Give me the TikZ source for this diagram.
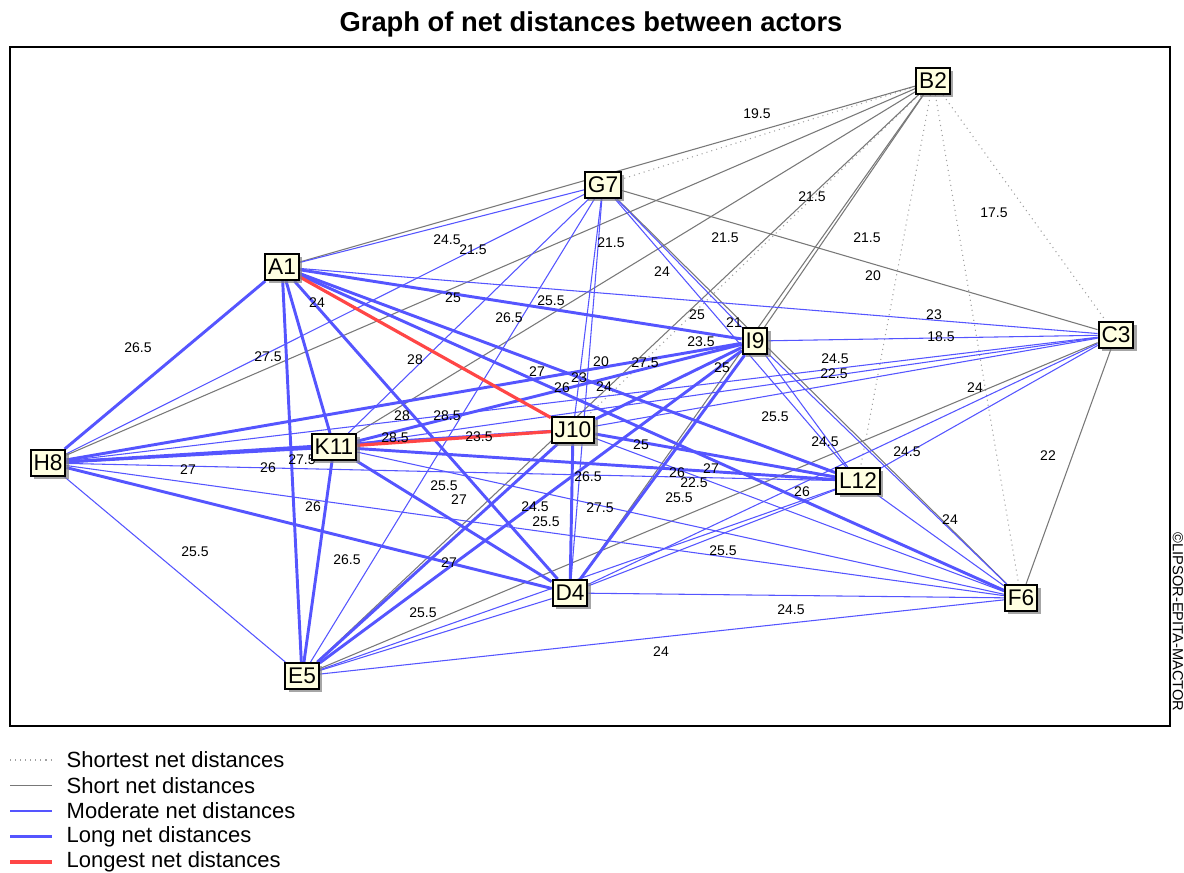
\documentclass[tikz,border=0pt]{standalone}
\usepackage{fontspec}
\setmainfont{Liberation Sans}
\usetikzlibrary{shadows,backgrounds}

\definecolor{actorfill}{RGB}{255,255,225}
\definecolor{netblue}{RGB}{85,85,255}
\definecolor{netred}{RGB}{255,70,70}
\definecolor{netgray}{RGB}{120,120,120}
\definecolor{netlight}{RGB}{160,160,160}

\tikzset{
  actor/.style={draw, line width=1.5pt, fill=actorfill, inner xsep=2.2pt, inner ysep=0pt,
    minimum height=19.5pt, font=\fontsize{17}{17}\selectfont,
    general shadow={fill=black!50, opacity=0.7, shadow xshift=2.5pt, shadow yshift=-2.5pt}},
  dist/.style={inner sep=0pt, font=\fontsize{10.5}{10.5}\selectfont},
  shortest/.style={netlight, line width=0.8pt, dash pattern=on 0.8pt off 3pt},
  shortline/.style={netgray, line width=0.8pt},
  moderate/.style={netblue, line width=0.8pt},
  longline/.style={netblue, line width=2.2pt},
  longest/.style={netred, line width=2.4pt}
}

\begin{document}
\begin{tikzpicture}[x=0.75pt,y=-0.75pt]
\useasboundingbox (0,0) rectangle (1184,872);

\node[font=\bfseries\fontsize{20.5}{20.5}\selectfont] (title) at (591,24) {Graph of net distances between actors};

% actors
\node[actor] (A1) at (282,267) {A1};
\node[actor] (B2) at (933,81) {B2};
\node[actor] (C3) at (1116,335) {C3};
\node[actor] (D4) at (570,593) {D4};
\node[actor] (E5) at (302,676) {E5};
\node[actor] (F6) at (1021,598) {F6};
\node[actor] (G7) at (603,185) {G7};
\node[actor] (H8) at (48,463) {H8};
\node[actor] (I9) at (755,341) {I9};
\node[actor] (J10) at (573,430) {J10};
\node[actor] (K11) at (334,447) {K11};
\node[actor] (L12) at (858,481) {L12};

\begin{scope}[on background layer]
\draw[line width=1.1pt] (10,47) rectangle (1170,726);
% net distances
\foreach \a/\b in {B2/G7, B2/C3, B2/L12, B2/F6, B2/J10}
  \draw[shortest] (\a) -- (\b);
\foreach \a/\b in {A1/B2, B2/D4, B2/E5, B2/H8, B2/I9, B2/K11, C3/E5, C3/F6, C3/G7, G7/F6}
  \draw[shortline] (\a) -- (\b);
\foreach \a/\b in {A1/C3, A1/G7, C3/D4, C3/H8, C3/I9, C3/J10, C3/K11, C3/L12, D4/E5, D4/F6,
    D4/G7, D4/L12, E5/F6, E5/G7, E5/H8, E5/L12, F6/H8, F6/I9, F6/J10, F6/K11, F6/L12,
    G7/H8, G7/I9, G7/J10, G7/K11, G7/L12, H8/L12, I9/L12}
  \draw[moderate] (\a) -- (\b);
\foreach \a/\b in {A1/D4, A1/E5, A1/F6, A1/H8, A1/I9, A1/K11, A1/L12, D4/H8, D4/I9, D4/J10,
    D4/K11, E5/I9, E5/J10, E5/K11, H8/I9, H8/J10, H8/K11, I9/J10, I9/K11, J10/L12, K11/L12}
  \draw[longline] (\a) -- (\b);
\foreach \a/\b in {A1/J10, J10/K11}
  \draw[longest] (\a) -- (\b);
% distance values
\foreach \v/\x/\y [count=\i] in {19.5/757/114, 21.5/812/197, 17.5/994/213, 24.5/447/240,
    21.5/473/250, 21.5/611/243, 21.5/725/238, 21.5/867/238, 24/662/272, 20/873/276,
    26.5/138/348, 24/317/303, 25/453/298, 25.5/551/301, 26.5/509/318, 25/697/315,
    21/734/323, 23/934/315, 18.5/941/337, 23.5/701/342, 27.5/268/357, 28/415/360,
    27/537/372, 20/601/362, 27.5/645/363, 23/579/378, 26/562/388, 24/604/387,
    25/722/368, 24.5/835/359, 22.5/834/374, 24/975/388, 28/402/416, 28.5/447/416,
    28.5/395/438, 23.5/479/437, 25/641/445, 25.5/775/417, 24.5/825/442, 24.5/907/452,
    22/1048/456, 27/188/470, 26/268/468, 27.5/302/460, 25.5/444/486, 27/459/500,
    26.5/588/477, 26/677/473, 27/711/469, 22.5/694/483, 25.5/679/498, 26/802/492,
    26/313/507, 24.5/535/507, 25.5/546/522, 27.5/600/508, 25.5/723/551, 24/950/520,
    25.5/195/552, 26.5/347/560, 27/449/563, 25.5/423/613, 24.5/791/610, 24/661/652}
  \node[dist] (v\i) at (\x,\y) {\v};
\end{scope}

\node[rotate=-90, font=\fontsize{11}{11}\selectfont] (copy) at (1178,622) {©LIPSOR-EPITA-MACTOR};

% legend
\foreach \s/\t [count=\i] in {shortest/Shortest net distances, shortline/Short net distances,
    moderate/Moderate net distances, longline/Long net distances, longest/Longest net distances}
{
  \draw[\s] (10,734.5+25.5*\i) -- (52,734.5+25.5*\i);
  \node[anchor=west, font=\fontsize{16.5}{16.5}\selectfont] (leg\i) at (62,734.5+25.5*\i) {\t};
}
\end{tikzpicture}
\end{document}
